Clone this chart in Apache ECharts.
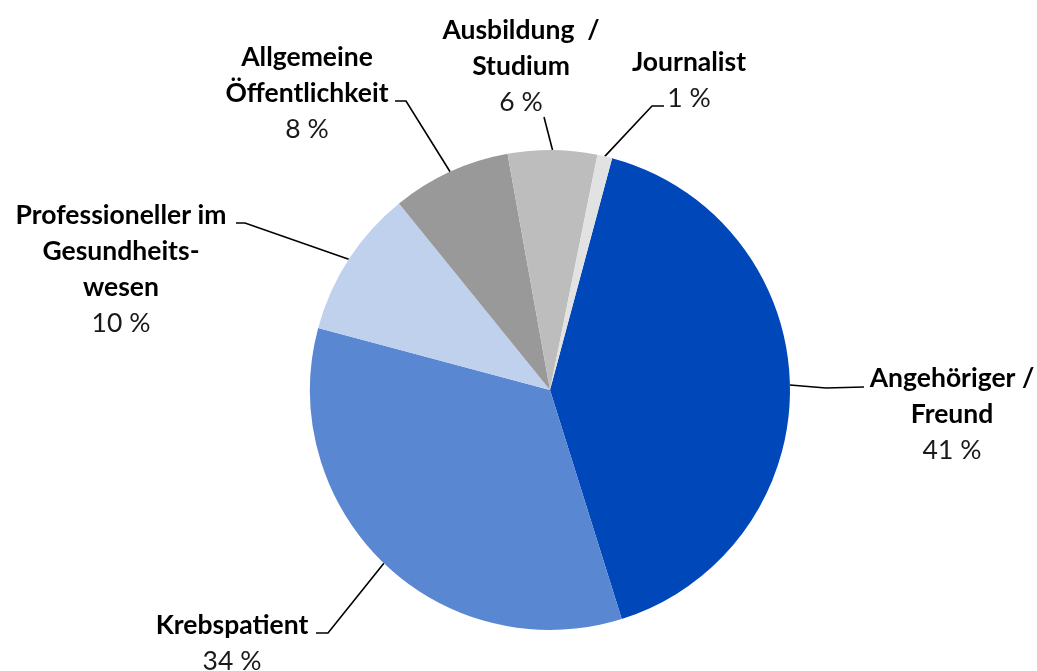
<!DOCTYPE html>
<html>
<head>
<meta charset="utf-8">
<script src="https://cdn.jsdelivr.net/npm/echarts@6/dist/echarts.min.js"></script>
<style>
html, body { margin: 0; padding: 0; background: #fff; }
#chart { width: 1037px; height: 671px; }
</style>
</head>
<body>
<div id="chart"></div>
<script>
// categories in clockwise order, starting just right of 12 o'clock
const categories = [
  'Angehöriger /\nFreund',
  'Krebspatient',
  'Professioneller im\nGesundheits-\nwesen',
  'Allgemeine\nÖffentlichkeit',
  'Ausbildung  /\nStudium',
  'Journalist'
]
const shares = [41, 34, 10, 8, 6, 1]
const sliceColors = ['#0047BA', '#5A87D2', '#C0D1EE', '#999999', '#BDBDBD', '#E2E2E2']

// where each label sits (centre x, top y) and the bend/end of its leader line
const labelPlacement = [
  { x: 952, y: 360, line: [[826, 388], [864, 387]] },
  { x: 232, y: 607, line: [[328, 633], [316, 633]] },
  { x: 121, y: 197, line: [[245, 223], [236, 223]] },
  { x: 307, y: 39, line: [[406, 101], [395, 101]] },
  { x: 521, y: 12, line: [[544, 117]] },
  { x: 689, y: 44, line: [[652, 106], [664, 106]] }
]

const chart = echarts.init(document.getElementById('chart'))

chart.setOption({
  animation: false,
  series: [{
    type: 'pie',
    center: [550, 390],
    radius: 240,
    startAngle: 75,
    clockwise: true,
    avoidLabelOverlap: false,
    silent: true,
    data: categories.map((name, i) => ({
      name,
      value: shares[i],
      itemStyle: { color: sliceColors[i] }
    })),
    itemStyle: { borderWidth: 0 },
    label: {
      show: true,
      position: 'outside',
      formatter: p => `{b|${p.name}}\n{p|${p.value} %}`,
      fontFamily: 'Lato',
      color: '#000',
      rich: {
        b: { fontFamily: 'Lato', fontWeight: 'bold', fontSize: 26.5, lineHeight: 36, color: '#000', align: 'center' },
        p: { fontFamily: 'Lato', fontSize: 26.5, lineHeight: 36, color: '#1a1a1a', align: 'center' }
      }
    },
    labelLine: {
      show: true,
      length: 20,
      length2: 10,
      lineStyle: { color: '#000', width: 1.6 }
    },
    labelLayout: params => {
      const pl = labelPlacement[params.dataIndex]
      const start = params.labelLinePoints ? params.labelLinePoints[0] : pl.line[0]
      return {
        x: pl.x,
        y: pl.y,
        align: 'center',
        verticalAlign: 'top',
        labelLinePoints: [start, ...pl.line]
      }
    }
  }]
})
</script>
</body>
</html>
